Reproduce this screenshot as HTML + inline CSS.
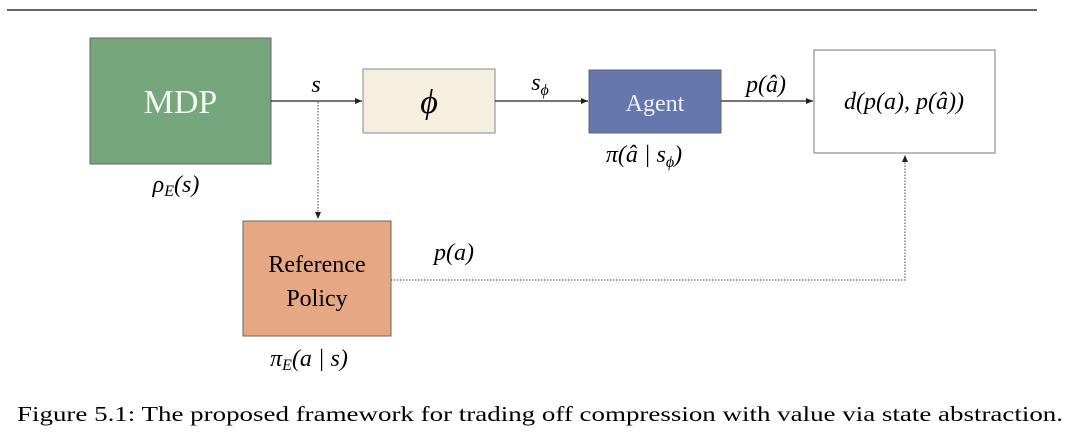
<!DOCTYPE html>
<html><head><meta charset="utf-8"><style>
html,body{margin:0;padding:0;background:#fff;width:1080px;height:439px;overflow:hidden}
svg{display:block}
text{font-family:"Liberation Serif",serif}
.m{font-style:italic;font-size:24px}
</style></head><body>
<svg width="1080" height="439" viewBox="0 0 1080 439">
<defs><marker id="a" markerWidth="8" markerHeight="8" refX="7" refY="4" orient="auto" markerUnits="userSpaceOnUse"><path d="M0,1 L7,4 L0,7 Z" fill="#222"/></marker></defs>
<line x1="7" y1="10" x2="1037" y2="10" stroke="#333" stroke-width="1.5"/>
<rect x="90" y="38" width="181" height="126" fill="#76a67b" stroke="#666"/>
<text x="180.5" y="113" font-size="34" fill="#f4f8f0" text-anchor="middle">MDP</text>
<rect x="363" y="69" width="132" height="64" fill="#f5efdf" stroke="#888"/>
<text x="429" y="113" class="m" font-size="34" text-anchor="middle" style="font-size:34px">ϕ</text>
<rect x="589" y="70" width="132" height="63" fill="#6677ad" stroke="#666"/>
<text x="655" y="111" font-size="24" fill="#eef0f8" text-anchor="middle">Agent</text>
<rect x="814" y="50" width="181" height="103" fill="#fff" stroke="#777"/>
<text x="904" y="109" class="m" text-anchor="middle">d(p(a), p(â))</text>
<rect x="243" y="221" width="148" height="115" fill="#e6a784" stroke="#666"/>
<text x="317" y="272" font-size="24" text-anchor="middle">Reference</text>
<text x="317" y="306" font-size="24" text-anchor="middle">Policy</text>
<line x1="271" y1="101" x2="362" y2="101" stroke="#222" stroke-width="1.2" marker-end="url(#a)"/>
<line x1="495" y1="101" x2="588" y2="101" stroke="#222" stroke-width="1.2" marker-end="url(#a)"/>
<line x1="721" y1="101" x2="813" y2="101" stroke="#222" stroke-width="1.2" marker-end="url(#a)"/>
<line x1="318" y1="102" x2="318" y2="219" stroke="#444" stroke-width="1" stroke-dasharray="1.5,1.5" marker-end="url(#a)"/>
<polyline points="391,280 905,280 905,155" fill="none" stroke="#444" stroke-width="1" stroke-dasharray="1.5,1.5" marker-end="url(#a)"/>
<text x="316" y="92" class="m" text-anchor="middle">s</text>
<text x="540" y="90" class="m" text-anchor="middle">s<tspan font-size="16" dy="5">ϕ</tspan></text>
<text x="766" y="92" class="m" text-anchor="middle">p(â)</text>
<text x="176" y="192" class="m" text-anchor="middle">ρ<tspan font-size="16" dy="4">E</tspan><tspan dy="-4">(s)</tspan></text>
<text x="644" y="162" class="m" text-anchor="middle">π(â | s<tspan font-size="16" dy="5">ϕ</tspan><tspan dy="-5">)</tspan></text>
<text x="454" y="260" class="m" text-anchor="middle">p(a)</text>
<text x="309" y="366" class="m" text-anchor="middle">π<tspan font-size="16" dy="4">E</tspan><tspan dy="-4">(a | s)</tspan></text>
<text x="17" y="421" font-size="21" textLength="1046" lengthAdjust="spacingAndGlyphs">Figure 5.1: The proposed framework for trading off compression with value via state abstraction.</text>
</svg>
</body></html>
